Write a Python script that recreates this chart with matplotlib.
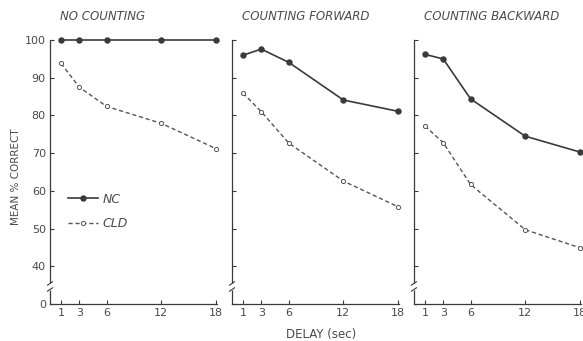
import matplotlib
matplotlib.use("Agg")
import matplotlib.pyplot as plt
import matplotlib.transforms as mtransforms

# delay (sec)
delays = [1, 3, 6, 12, 18]

panel_titles = ["NO COUNTING", "COUNTING FORWARD", "COUNTING BACKWARD"]

# mean % correct
nc_no_counting = [100, 100, 100, 100, 100]
cld_no_counting = [93.8, 87.5, 82.4, 77.9, 71.2]

nc_forward = [96.0, 97.6, 94.1, 84.1, 81.1]
cld_forward = [85.9, 81.0, 72.7, 62.6, 55.8]

nc_backward = [96.2, 95.0, 84.4, 74.5, 70.3]
cld_backward = [77.2, 72.8, 61.7, 49.7, 44.9]

nc_series = [nc_no_counting, nc_forward, nc_backward]
cld_series = [cld_no_counting, cld_forward, cld_backward]

ytick_vals = [30, 40, 50, 60, 70, 80, 90, 100]
ytick_labels = ["0", "40", "50", "60", "70", "80", "90", "100"]

INK = "#3a3a3a"
TXT = "#4a4a4a"

fig = plt.figure(figsize=(5.83, 3.41), dpi=100)
lefts = [0.0858, 0.398, 0.710]
width = 0.2864
bottom = 0.1085
height = 0.774

for i in range(3):
    ax = fig.add_axes([lefts[i], bottom, width, height])
    ax.plot(delays, cld_series[i], linestyle=(0, (3, 2)), color="#555555", lw=1.0,
            marker="o", markersize=3.0, markerfacecolor="white",
            markeredgecolor="#555555", markeredgewidth=0.7, clip_on=False,
            label="CLD")
    ax.plot(delays, nc_series[i], linestyle="-", color=INK, lw=1.2,
            marker="o", markersize=3.6, markerfacecolor=INK,
            markeredgecolor=INK, clip_on=False, label="NC")

    ax.set_xlim(-0.21, 18.1)
    ax.set_ylim(30, 100)
    ax.spines["top"].set_visible(False)
    ax.spines["right"].set_visible(False)
    for s in ["left", "bottom"]:
        ax.spines[s].set_color(INK)
        ax.spines[s].set_linewidth(0.9)

    ax.set_xticks(delays)
    ax.set_xticklabels([str(d) for d in delays])
    ax.set_yticks(ytick_vals)
    if i == 0:
        ax.set_yticklabels(ytick_labels)
    else:
        ax.set_yticklabels([])
    ax.tick_params(direction="in", length=3, width=0.8, color=INK,
                   labelsize=8, labelcolor=TXT, pad=3)

    ax.text(0.06, 1.09, panel_titles[i], transform=ax.transAxes,
            ha="left", va="center", fontsize=8.5, style="italic", color=TXT)

    # axis break mark on the y spine
    trans = mtransforms.blended_transform_factory(ax.transAxes, ax.transData)
    ax.plot([0, 0], [33.6, 35.6], color="white", lw=2.5, transform=trans,
            clip_on=False, solid_capstyle="butt", zorder=5)
    for y0 in (33.4, 35.0):
        ax.plot([-0.015, 0.015], [y0, y0 + 0.9], color=INK, lw=0.8,
                transform=trans, clip_on=False, zorder=6)

    if i == 0:
        handles, labels = ax.get_legend_handles_labels()
        leg = ax.legend(handles[::-1], labels[::-1], loc="upper left",
                        bbox_to_anchor=(0.04, 0.465), frameon=False,
                        handlelength=2.4, handletextpad=0.4, labelspacing=0.95,
                        prop={"size": 9, "style": "italic"})
        for t in leg.get_texts():
            t.set_color(TXT)

fig.text(0.027, 0.481, "MEAN % CORRECT", rotation=90, ha="center", va="center",
         fontsize=7.5, color=TXT)
fig.text(0.551, 0.018, "DELAY (sec)", ha="center", va="center",
         fontsize=8.5, color=TXT)

fig.savefig("out.png", dpi=100)
